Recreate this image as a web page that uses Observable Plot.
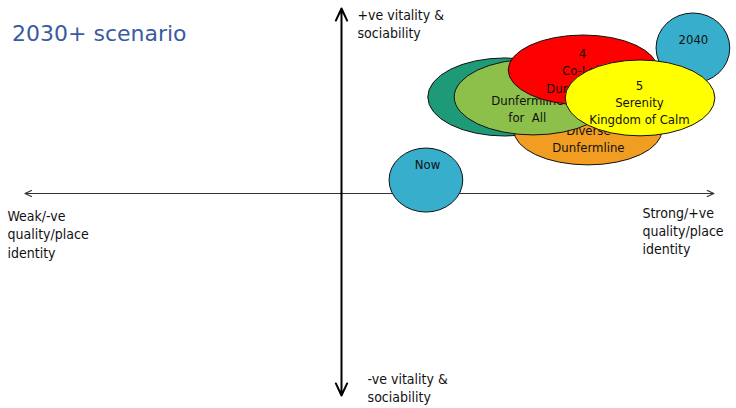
<!DOCTYPE html>
<html>
<head>
<meta charset="utf-8">
<script src="https://cdn.jsdelivr.net/npm/d3@7"></script>
<script src="https://cdn.jsdelivr.net/npm/@observablehq/plot@0.6"></script>
<style>
  html, body { margin: 0; padding: 0; background: #fff; }
  #wrap { position: relative; width: 736px; height: 408px; }
  #title { position: absolute; left: 12px; top: 21px; font-family: "DejaVu Sans", sans-serif; font-size: 22px; color: #3a5ba0; white-space: nowrap; }
</style>
</head>
<body>
<div id="wrap"><div id="title">2030+ scenario</div><div id="chart"></div></div>
<script>
// Scenarios (x = quality/place identity, y = vitality & sociability), drawn in this order
const names   = ["Now", "2040", "Teal", "Diverse", "ForAll", "CoLab", "Serenity"];
const labels  = ["Now", "2040", "", "Diverse\nDunfermline", "Dunfermline\nfor  All", "4\nCo-Lab\nDunfermline", "5\nSerenity\nKingdom of Calm"];
const cx      = [2.28, 9.45, 4.40, 6.63, 5.16, 6.50, 8.03];
const cy      = [0.70, 7.84, 5.19, 3.41, 5.19, 6.65, 5.14];
const rx      = [0.99, 0.99, 2.07, 1.99, 2.12, 2.01, 2.01];
const ry      = [1.73, 1.89, 2.11, 1.89, 2.05, 1.89, 2.05];
const labelX  = [2.31, 9.45, 4.40, 6.63, 4.99, 6.47, 8.00];
const labelY  = [1.62, 8.38, 5.19, 3.00, 4.62, 6.68, 4.97];
const fills   = ["#37aecb", "#37aecb", "#1f9a78", "#f19d22", "#8cc04b", "#ff0000", "#ffff00"];

// Axis end labels
const axisText = ["+ve vitality &\nsociability", "-ve vitality &\nsociability", "Weak/-ve\nquality/place\nidentity", "Strong/+ve\nquality/place\nidentity"];
const axisTX   = [0.43, 0.70, -8.97, 8.08];
const axisTY   = [10.1, -9.57, -0.76, -0.59];

// Axis extents
const xMin = -8.5, xMax = 10, yMin = -10.92, yMax = 10;

const items = names.map((n, i) => ({name: n, label: labels[i], cx: cx[i], cy: cy[i], rx: rx[i], ry: ry[i], lx: labelX[i], ly: labelY[i], fill: fills[i]}));
const axisLabels = axisText.map((t, i) => ({text: t, x: axisTX[i], y: axisTY[i]}));

const arrowsH = [{x1: 0, y1: 0, x2: xMin, y2: 0}, {x1: 0, y1: 0, x2: xMax, y2: 0}];
const arrowsV = [{x1: 0, y1: 0, x2: 0, y2: yMax}, {x1: 0, y1: 0, x2: 0, y2: yMin}];

function ellipseMark(d) {
  return (index, scales) => {
    const g = d3.create("svg:g");
    const X = scales.x, Y = scales.y;
    g.append("ellipse")
      .attr("cx", X(d.cx)).attr("cy", Y(d.cy))
      .attr("rx", Math.abs(X(d.cx + d.rx) - X(d.cx)))
      .attr("ry", Math.abs(Y(d.cy + d.ry) - Y(d.cy)))
      .attr("fill", d.fill).attr("stroke", "#111").attr("stroke-width", 1);
    return g.node();
  };
}

const marks = [
  Plot.arrow(arrowsH, {x1: "x1", y1: "y1", x2: "x2", y2: "y2", stroke: "#333", strokeWidth: 1.2, headLength: 9, headAngle: 50}),
  Plot.arrow(arrowsV, {x1: "x1", y1: "y1", x2: "x2", y2: "y2", stroke: "#000", strokeWidth: 2, headLength: 10, headAngle: 50})
];
items.forEach(d => {
  marks.push(ellipseMark(d));
  if (d.label) marks.push(Plot.text([d], {x: "lx", y: "ly", text: "label", fill: "#111", fontSize: 13, lineHeight: 1.32, lineAnchor: "middle", textAnchor: "middle"}));
});
marks.push(Plot.text(axisLabels, {x: "x", y: "y", text: "text", fill: "#111", fontSize: 14, lineHeight: 1.32, lineAnchor: "top", textAnchor: "start"}));

const chart = Plot.plot({
  width: 736, height: 408,
  marginTop: 0, marginBottom: 0, marginLeft: 0, marginRight: 0,
  x: {domain: [-341 / 37.24, (736 - 341) / 37.24], axis: null},
  y: {domain: [-(408 - 193) / 18.5, 193 / 18.5], axis: null},
  style: {fontFamily: "'Liberation Sans Narrow', 'DejaVu Sans Condensed', sans-serif", background: "#fff", overflow: "visible"},
  marks
});
document.getElementById("chart").appendChild(chart);
</script>
</body>
</html>
